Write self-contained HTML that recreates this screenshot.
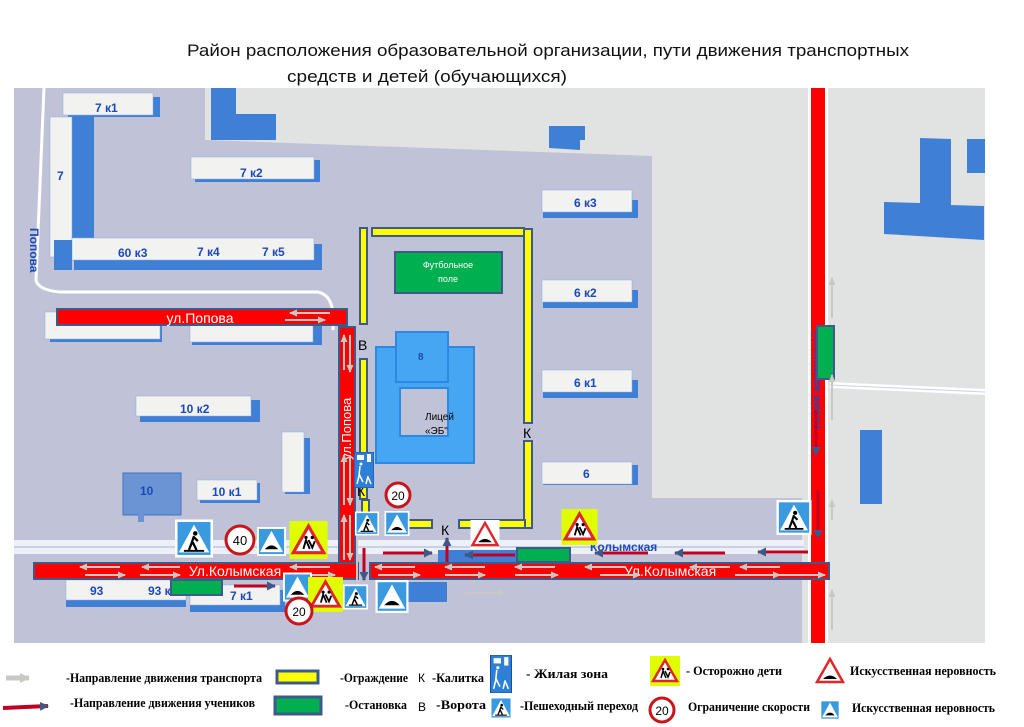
<!DOCTYPE html>
<html><head><meta charset="utf-8"><style>
html,body{margin:0;padding:0;background:#fff;width:1024px;height:727px;overflow:hidden}
svg{display:block}
text{font-family:"Liberation Sans",sans-serif}
.lg{font-family:"Liberation Serif",serif;font-size:13px;font-weight:bold;fill:#000}
.bl{font-family:"Liberation Sans",sans-serif;font-size:12px;font-weight:bold;fill:#1b49b8}
</style></head><body>
<svg width="1024" height="727" viewBox="0 0 1024 727" xmlns="http://www.w3.org/2000/svg">
<defs>
<symbol id="ped" viewBox="0 0 30 30"><rect width="30" height="30" fill="#fff"/><rect x="2" y="2" width="26" height="26" fill="#3a9ae0"/><polygon points="15,4 27,26 3,26" fill="#fff"/><circle cx="16" cy="11" r="1.8" fill="#000"/><path d="M15,13 L13,19 L11,24 M14,18 L17,24 M15,14 L18,17" stroke="#000" stroke-width="1.8" fill="none"/><rect x="7" y="24" width="16" height="1.5" fill="#000"/></symbol>
<symbol id="hump" viewBox="0 0 30 30"><rect width="30" height="30" fill="#fff"/><rect x="2" y="2" width="26" height="26" fill="#3a9ae0"/><polygon points="15,4 27,26 3,26" fill="#fff"/><path d="M8,23 Q15,15 22,23 Z" fill="#000"/></symbol>
<symbol id="kids" viewBox="0 0 30 30"><rect width="30" height="30" fill="#dfff00"/><polygon points="15,4 27,25 3,25" fill="#fff" stroke="#e0262a" stroke-width="2.5"/><path d="M11,22 L13,15 L16,22 M15,15 L18,21 L20,16" stroke="#000" stroke-width="1.5" fill="none"/><circle cx="13" cy="13" r="1.3"/><circle cx="18" cy="13" r="1.3"/></symbol>
<symbol id="humpt" viewBox="0 0 30 30"><rect width="30" height="30" fill="#fff"/><polygon points="15,3 28,26 2,26" fill="#fff" stroke="#e0262a" stroke-width="2.5"/><path d="M8,23 Q15,16 22,23 Z" fill="#000"/></symbol>
<symbol id="zz" viewBox="0 0 20 36"><rect width="20" height="36" fill="#2e7fd6" stroke="#1b4da0"/><rect x="3" y="3" width="7" height="5" fill="#fff"/><rect x="13" y="2" width="4" height="8" fill="#fff"/><path d="M6,14 L5,24 L3,32 M5,22 L9,30 M14,24 L12,32 M14,25 L17,32" stroke="#fff" stroke-width="1.5" fill="none"/><circle cx="7" cy="12" r="1.5" fill="#fff"/></symbol>
<marker id="ga" markerUnits="userSpaceOnUse" markerWidth="8" markerHeight="7" refX="7" refY="3.5" orient="auto"><path d="M0,0 L8,3.5 L0,7 Z" fill="#c8c8c4"/></marker>
<marker id="ra" markerUnits="userSpaceOnUse" markerWidth="9" markerHeight="9" refX="8" refY="4.5" orient="auto"><path d="M0,0 L9,4.5 L0,9 Z" fill="#3a5a8a"/></marker>
<marker id="gaL" markerUnits="userSpaceOnUse" markerWidth="10" markerHeight="10" refX="9" refY="5" orient="auto"><path d="M0,0 L10,5 L0,10 Z" fill="#c8c8c4"/></marker>
</defs>

<!-- title -->
<text x="548" y="56" text-anchor="middle" font-size="17" fill="#111" textLength="722" lengthAdjust="spacingAndGlyphs">Район расположения образовательной организации, пути движения транспортных</text>
<text x="427" y="82" text-anchor="middle" font-size="17" fill="#111" textLength="280" lengthAdjust="spacingAndGlyphs">средств и детей (обучающихся)</text>

<!-- map background -->
<rect x="14" y="88" width="971" height="555" fill="#e1e2e2"/>
<polygon points="14,88 205,88 205,140 652,156 652,498 802,498 802,643 14,643" fill="#c0c3d7"/>

<!-- white roads -->
<path d="M44,88 L36,280 Q38,290 60,292 L318,292 Q332,295 333,315 L333,330" stroke="#fff" stroke-width="3" fill="none"/>
<rect x="14" y="540" width="790" height="14" fill="#eef0f7"/>
<line x1="14" y1="547" x2="804" y2="547" stroke="#c8d0ea" stroke-width="2"/>
<path d="M830,385 L985,392" stroke="#fff" stroke-width="6"/>
<line x1="830" y1="385" x2="985" y2="392" stroke="#c8d0ea" stroke-width="1"/>

<!-- buildings -->
<g fill="#3f80d6">
<rect x="68" y="97" width="92" height="20"/><rect x="72" y="114" width="22" height="140"/>
<rect x="195" y="160" width="125" height="22"/><rect x="74" y="244" width="248" height="26"/>
<rect x="50" y="318" width="112" height="24"/><rect x="192" y="318" width="130" height="27"/>
<rect x="140" y="400" width="120" height="22"/><rect x="200" y="483" width="60" height="20"/>
<rect x="285" y="438" width="25" height="56"/><rect x="543" y="200" width="95" height="18"/>
<rect x="543" y="290" width="95" height="18"/><rect x="543" y="380" width="95" height="18"/>
<rect x="543" y="465" width="95" height="20"/><rect x="66" y="585" width="120" height="22"/>
<rect x="190" y="590" width="95" height="22"/>
</g>
<g fill="#f2f2f0" stroke="#8aaee0" stroke-width="0.5">
<rect x="63" y="93" width="90" height="22"/><rect x="50" y="117" width="22" height="140"/>
<rect x="191" y="157" width="123" height="22"/><rect x="72" y="238" width="242" height="22"/>
<rect x="45" y="312" width="115" height="27"/><rect x="190" y="315" width="123" height="27"/>
<rect x="136" y="396" width="115" height="20"/><rect x="197" y="480" width="60" height="20"/>
<rect x="282" y="432" width="22" height="60"/><rect x="542" y="190" width="90" height="22"/>
<rect x="542" y="280" width="90" height="22"/><rect x="542" y="370" width="90" height="22"/>
<rect x="542" y="462" width="90" height="22"/><rect x="66" y="580" width="120" height="20"/>
<rect x="190" y="585" width="90" height="20"/>
</g>
<rect x="54" y="240" width="18" height="30" fill="#3f80d6"/>
<rect x="123" y="473" width="58" height="42" fill="#6b94d4" stroke="#3f70c0"/>
<rect x="138" y="512" width="6" height="10" fill="#6b94d4"/>
<g class="bl">
<text x="95" y="112">7 к1</text><text x="57" y="180">7</text><text x="240" y="177">7 к2</text>
<text x="118" y="257">60 к3</text><text x="197" y="256">7 к4</text><text x="262" y="256">7 к5</text>
<text x="180" y="413">10 к2</text><text x="212" y="496">10 к1</text><text x="140" y="495">10</text>
<text x="574" y="207">6 к3</text><text x="574" y="297">6 к2</text><text x="574" y="387">6 к1</text>
<text x="583" y="478">6</text><text x="90" y="595">93</text><text x="148" y="595">93 к</text>
<text x="230" y="600">7 к1</text><text x="590" y="551">Колымская</text>
</g>
<text class="bl" transform="translate(30,228) rotate(90)">Попова</text>
<!-- blue shapes top -->
<path d="M211,88 L236,88 L236,114 L276,114 L276,140 L211,140 Z" fill="#3f80d6"/>
<path d="M549,126 L585,126 L585,140 L580,140 L580,150 L549,148 Z" fill="#3f80d6"/>
<path d="M920,138 L951,139 L951,205 L984,206 L984,240 L884,234 L884,202 L920,203 Z" fill="#3f80d6"/>
<rect x="967" y="139" width="18" height="34" fill="#3f80d6"/>
<rect x="860" y="430" width="22" height="74" fill="#3f80d6"/>
<rect x="397" y="582" width="50" height="20" fill="#3f80d6"/>
<rect x="438" y="550" width="110" height="12" fill="#3f80d6"/>

<!-- lyceum -->
<rect x="376" y="347" width="98" height="116" fill="#47a6f4" stroke="#2f88e0" stroke-width="2"/>
<rect x="396" y="332" width="52" height="50" fill="#47a6f4" stroke="#2f88e0" stroke-width="2"/>
<rect x="400" y="388" width="48" height="48" fill="#c0c3d7" stroke="#2f88e0" stroke-width="2"/>
<text x="418" y="360" font-size="10" fill="#1b49b8" font-weight="bold">8</text>
<text x="425" y="420" font-size="10" fill="#000">Лицей</text>
<text x="425" y="434" font-size="10" fill="#000">«ЭБ"</text>

<!-- football -->
<rect x="395" y="252" width="107" height="41" fill="#00b050" stroke="#3d5a8a" stroke-width="2"/>
<text x="448" y="268" text-anchor="middle" font-size="9" fill="#fff">Футбольное</text>
<text x="448" y="282" text-anchor="middle" font-size="9" fill="#fff">поле</text>

<!-- fences -->
<g fill="#ffff00" stroke="#3d5a8a" stroke-width="2">
<rect x="360" y="228" width="7" height="96"/><rect x="372" y="228" width="152" height="8"/>
<rect x="524" y="229" width="8" height="194"/><rect x="524" y="441" width="8" height="87"/>
<rect x="360" y="359" width="7" height="140"/><rect x="459" y="520" width="66" height="8"/>
<rect x="407" y="520" width="25" height="8"/><rect x="362" y="500" width="7" height="28"/>
</g>
<text x="358" y="350" font-size="14" fill="#000">В</text>
<text x="523" y="438" font-size="14" fill="#000">К</text>
<text x="357" y="496" font-size="14" fill="#000">К</text>
<text x="441" y="535" font-size="14" fill="#000">К</text>

<!-- Kolymskoe shosse -->
<rect x="808" y="88" width="20" height="555" fill="#fff"/>
<rect x="811" y="88" width="14" height="555" fill="#f00"/>
<text transform="translate(814,330) rotate(90)" font-size="11" font-weight="bold" fill="#1b49b8">Колымское шоссе</text>
<rect x="817" y="326" width="17" height="53" fill="#00b050" stroke="#3d5a8a" stroke-width="2"/>
<g stroke="#c8c8c4" stroke-width="2" marker-end="url(#ga)">
<line x1="832" y1="318" x2="832" y2="278"/><line x1="832" y1="420" x2="832" y2="375"/>
<line x1="832" y1="520" x2="832" y2="500"/><line x1="832" y1="630" x2="832" y2="590"/>
</g>

<!-- ул.Попова horizontal -->
<rect x="57" y="309" width="290" height="16" fill="#f00" stroke="#3d5a8a" stroke-width="2"/>
<text x="200" y="323" text-anchor="middle" font-size="14" fill="#fff">ул.Попова</text>
<g stroke="#c8c8c4" stroke-width="2" marker-end="url(#ga)">
<line x1="330" y1="313" x2="290" y2="313"/><line x1="285" y1="320" x2="325" y2="320"/>
</g>
<!-- ул.Попова vertical -->
<rect x="339" y="327" width="16" height="252" fill="#f00" stroke="#3d5a8a" stroke-width="2"/>
<text transform="translate(351,460) rotate(-90)" font-size="13" fill="#fff">ул.Попова</text>
<g stroke="#c8c8c4" stroke-width="2" marker-end="url(#ga)">
<line x1="344" y1="370" x2="344" y2="335"/><line x1="350" y1="335" x2="350" y2="372"/>
<line x1="344" y1="505" x2="344" y2="455"/><line x1="350" y1="455" x2="350" y2="505"/>
<line x1="344" y1="560" x2="344" y2="515"/><line x1="350" y1="515" x2="350" y2="560"/>
</g>

<!-- Колымская -->
<rect x="34" y="563" width="324" height="16" fill="#f00" stroke="#3d5a8a" stroke-width="2"/>
<rect x="370" y="563" width="459" height="16" fill="#f00" stroke="#3d5a8a" stroke-width="2"/>
<text x="235" y="576" text-anchor="middle" font-size="14" fill="#fff">Ул.Колымская</text>
<text x="670" y="576" text-anchor="middle" font-size="14" fill="#fff">Ул.Колымская</text>
<g stroke="#c8c8c4" stroke-width="2" marker-end="url(#ga)">
<line x1="120" y1="567" x2="80" y2="567"/><line x1="85" y1="575" x2="125" y2="575"/>
<line x1="180" y1="567" x2="142" y2="567"/><line x1="140" y1="575" x2="180" y2="575"/>
<line x1="330" y1="567" x2="290" y2="567"/><line x1="290" y1="575" x2="335" y2="575"/>
<line x1="415" y1="567" x2="375" y2="567"/><line x1="378" y1="575" x2="420" y2="575"/>
<line x1="485" y1="567" x2="445" y2="567"/><line x1="445" y1="575" x2="485" y2="575"/>
<line x1="555" y1="567" x2="515" y2="567"/><line x1="515" y1="575" x2="558" y2="575"/>
<line x1="625" y1="567" x2="585" y2="567"/><line x1="730" y1="567" x2="690" y2="567"/>
<line x1="780" y1="567" x2="740" y2="567"/><line x1="735" y1="575" x2="780" y2="575"/>
<line x1="780" y1="575" x2="825" y2="575"/><line x1="600" y1="575" x2="640" y2="575"/>
<line x1="465" y1="593" x2="505" y2="593"/>
</g>
<line x1="357" y1="537" x2="357" y2="596" stroke="#c8c8c4" stroke-width="2" marker-end="url(#ga)"/>

<!-- student arrows -->
<g stroke="#c00020" stroke-width="3" marker-end="url(#ra)">
<line x1="383" y1="553" x2="432" y2="553"/><line x1="515" y1="555" x2="465" y2="555"/>
<line x1="648" y1="553" x2="595" y2="553"/><line x1="725" y1="553" x2="675" y2="553"/>
<line x1="808" y1="552" x2="758" y2="552"/><line x1="447" y1="562" x2="447" y2="538"/>
<line x1="816" y1="410" x2="816" y2="455"/><line x1="818" y1="490" x2="818" y2="538"/>
<line x1="234" y1="586" x2="275" y2="586"/><line x1="364" y1="548" x2="364" y2="580"/>
</g>

<!-- stops -->
<rect x="171" y="580" width="51" height="15" fill="#00b050" stroke="#3d5a8a" stroke-width="2"/>
<rect x="517" y="548" width="53" height="14" fill="#00b050" stroke="#3d5a8a" stroke-width="2"/>

<!-- signs -->
<use href="#ped" x="175" y="517" width="38" height="43"/>
<circle cx="240" cy="540" r="14" fill="#fff" stroke="#c8151b" stroke-width="3"/>
<text x="240" y="545" text-anchor="middle" font-size="13" fill="#000">40</text>
<use href="#hump" x="257" y="527" width="29" height="29"/>
<use href="#kids" x="289" y="521" width="39" height="38"/>
<use href="#zz" x="354" y="452" width="20" height="36"/>
<circle cx="398" cy="495" r="12" fill="#fff" stroke="#c8151b" stroke-width="3"/>
<text x="398" y="500" text-anchor="middle" font-size="12" fill="#000">20</text>
<use href="#ped" x="355" y="511" width="24" height="25"/>
<use href="#hump" x="384" y="511" width="26" height="25"/>
<use href="#humpt" x="469" y="520" width="32" height="29"/>
<use href="#kids" x="561" y="509" width="37" height="36"/>
<use href="#ped" x="776" y="500" width="36" height="35"/>
<use href="#hump" x="283" y="572" width="29" height="30"/>
<use href="#kids" x="307" y="577" width="37" height="35"/>
<circle cx="299" cy="611" r="13" fill="#fff" stroke="#c8151b" stroke-width="3"/>
<text x="299" y="616" text-anchor="middle" font-size="12" fill="#000">20</text>
<use href="#ped" x="343" y="582" width="25" height="30"/>
<use href="#hump" x="374" y="580" width="36" height="33"/>

<!-- legend -->
<line x1="6" y1="678" x2="29" y2="678" stroke="#c8c8c4" stroke-width="5" marker-end="url(#gaL)"/>
<text class="lg" x="66" y="682" textLength="196" lengthAdjust="spacingAndGlyphs">-Направление движения транспорта</text>
<rect x="277" y="671" width="41" height="12" fill="#ffff00" stroke="#3d5a8a" stroke-width="3"/>
<text class="lg" x="340" y="682" textLength="68" lengthAdjust="spacingAndGlyphs">-Ограждение</text>
<text x="418" y="682" font-size="12" fill="#000">К</text>
<text class="lg" x="432" y="682" textLength="52" lengthAdjust="spacingAndGlyphs">-Калитка</text>
<use href="#zz" x="490" y="655" width="22" height="38"/>
<text class="lg" x="526" y="678" textLength="82" lengthAdjust="spacingAndGlyphs">- Жилая зона</text>
<use href="#kids" x="650" y="656" width="30" height="30"/>
<text class="lg" x="686" y="675" textLength="96" lengthAdjust="spacingAndGlyphs">- Осторожно дети</text>
<use href="#humpt" x="815" y="656" width="30" height="30"/>
<text class="lg" x="850" y="675" textLength="146" lengthAdjust="spacingAndGlyphs">Искусственная неровность</text>
<line x1="3" y1="708" x2="48" y2="706" stroke="#c00020" stroke-width="4" marker-end="url(#ra)"/>
<text class="lg" x="70" y="707" textLength="185" lengthAdjust="spacingAndGlyphs">-Направление движения учеников</text>
<rect x="275" y="697" width="46" height="17" fill="#00b050" stroke="#3d5a8a" stroke-width="3"/>
<text class="lg" x="345" y="709" textLength="62" lengthAdjust="spacingAndGlyphs">-Остановка</text>
<text x="418" y="711" font-size="12" fill="#000">В</text>
<text class="lg" x="436" y="709" textLength="50" lengthAdjust="spacingAndGlyphs">-Ворота</text>
<use href="#ped" x="490" y="696" width="22" height="24"/>
<text class="lg" x="520" y="710" textLength="118" lengthAdjust="spacingAndGlyphs">-Пешеходный переход</text>
<circle cx="662" cy="710" r="12" fill="#fff" stroke="#c8151b" stroke-width="3"/>
<text x="662" y="715" text-anchor="middle" font-size="12" fill="#000">20</text>
<text class="lg" x="688" y="711" textLength="122" lengthAdjust="spacingAndGlyphs">Ограничение скорости</text>
<use href="#hump" x="820" y="698" width="20" height="24"/>
<text class="lg" x="852" y="712" textLength="143" lengthAdjust="spacingAndGlyphs">Искусственная неровность</text>
</svg>
</body></html>
